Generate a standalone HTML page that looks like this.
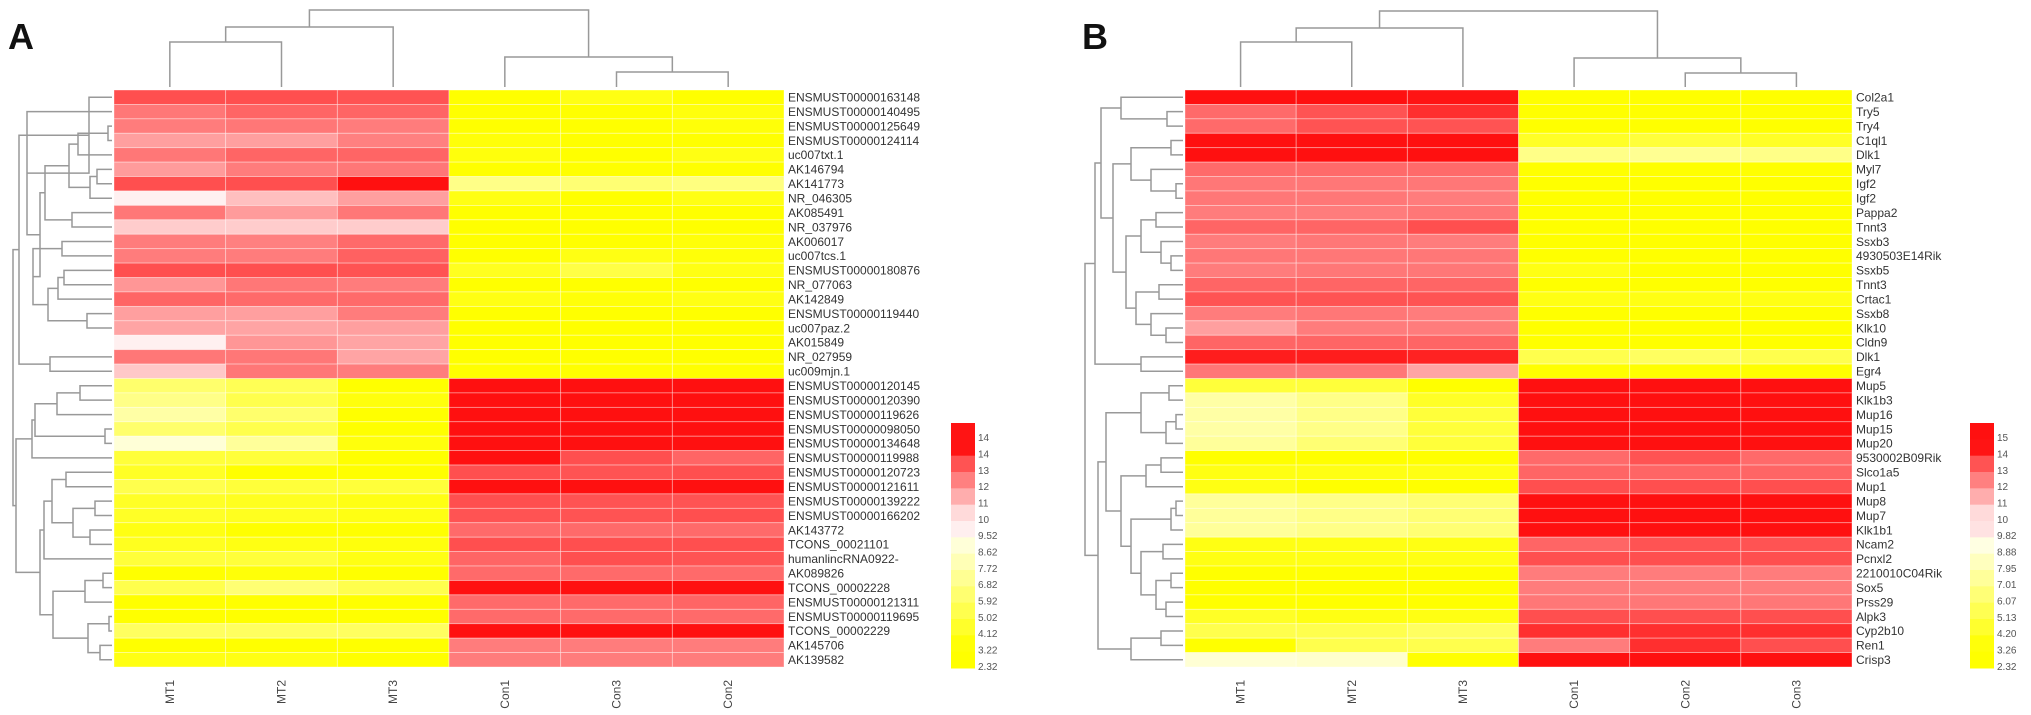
<!DOCTYPE html>
<html><head><meta charset="utf-8">
<style>
html,body{margin:0;padding:0;background:#fff;}
svg{display:block;}
text{font-family:"Liberation Sans",sans-serif;}
</style></head>
<body>
<svg id="chart" width="2031" height="715" viewBox="0 0 2031 715" xmlns="http://www.w3.org/2000/svg">
<text x="8" y="49" font-size="36" font-weight="bold" fill="#111">A</text>
<text x="1082" y="49" font-size="36" font-weight="bold" fill="#111">B</text>
</svg>
<script>
const colsA = ["MT1","MT2","MT3","Con1","Con3","Con2"];
const colsB = ["MT1","MT2","MT3","Con1","Con2","Con3"];
const rowsA = ["ENSMUST00000163148","ENSMUST00000140495","ENSMUST00000125649","ENSMUST00000124114","uc007txt.1","AK146794","AK141773","NR_046305","AK085491","NR_037976","AK006017","uc007tcs.1","ENSMUST00000180876","NR_077063","AK142849","ENSMUST00000119440","uc007paz.2","AK015849","NR_027959","uc009mjn.1","ENSMUST00000120145","ENSMUST00000120390","ENSMUST00000119626","ENSMUST00000098050","ENSMUST00000134648","ENSMUST00000119988","ENSMUST00000120723","ENSMUST00000121611","ENSMUST00000139222","ENSMUST00000166202","AK143772","TCONS_00021101","humanlincRNA0922-","AK089826","TCONS_00002228","ENSMUST00000121311","ENSMUST00000119695","TCONS_00002229","AK145706","AK139582"];
const rowsB = ["Col2a1","Try5","Try4","C1ql1","Dlk1","Myl7","Igf2","Igf2","Pappa2","Tnnt3","Ssxb3","4930503E14Rik","Ssxb5","Tnnt3","Crtac1","Ssxb8","Klk10","Cldn9","Dlk1","Egr4","Mup5","Klk1b3","Mup16","Mup15","Mup20","9530002B09Rik","Slco1a5","Mup1","Mup8","Mup7","Klk1b1","Ncam2","Pcnxl2","2210010C04Rik","Sox5","Prss29","Alpk3","Cyp2b10","Ren1","Crisp3"];
const valsA = [
[13.1,13.1,13,3,3.5,3],[12.2,12.6,12.6,3,3,3.3],[12.1,12.2,12.1,3,3,3.2],[11.3,11.3,12.0,3.2,3,3],[12.2,12.6,12.6,3.3,3,3.5],
[11.4,12.1,12.2,3,3,3],[13.1,13.1,14.5,6.5,6,6.3],[9.5,10.6,11.3,3.5,3,3.5],[12.2,11.4,12.2,3,3,3],[10.3,10.3,10.3,3,3,3],
[12.1,12,12.5,3,3,3.2],[12.1,12.1,12.7,3,3.5,3.2],[13.1,13.1,13,3.8,4.8,3.5],[11.5,12.2,12.1,3,3,3],[12.6,12.5,12.5,3.5,3.2,3.5],
[11.3,11.3,12.1,3,3,3],[11.2,11.2,11.3,3,3,3],[9.5,11.5,11.2,3,3,3],[12.2,12.2,11.2,3,3,3],[10.4,12.2,12.1,3,3,3],
[5.8,5.2,3,14.5,14.5,14.5],[6.5,5,3.3,14.5,14.5,14.5],[7.3,5.8,3,14.5,14.5,14.5],[5.8,5,3,14.5,14.5,14.5],[8.6,7,3.3,14.5,14.5,14.5],
[4.5,4.5,3,14.5,13.1,12.6],[4,3,3,13.1,13,13.1],[5,4.5,4.5,14.5,14.5,14.5],[4,3.8,3.5,13.1,13,13],[4,3.8,3.5,13,13,13.1],
[3.5,3,3,12.5,12.5,12.5],[3.8,3.5,3.3,13.1,13.1,13.1],[4.5,4.5,3.5,12.6,13.1,13],[3,3.2,3,12.5,12.5,12.5],[5,6,5,14.5,14.5,14.5],
[3,3,3,12.5,12.5,12.6],[3,3,3,12.5,12.5,12.5],[5.5,5.5,5.5,14.5,14.5,14.5],[3,3,3,12.1,12.1,12.1],[3.5,3.5,3,12.1,12.1,12.1]];
const valsB = [
[14.5,14.5,14.4,3,3,3],[12.5,13,13.8,3,3,3],[12.5,13,13,3,3,3],[14.5,14.5,14.5,4,4.5,4],[14.5,14.5,14.5,6.5,6.8,6.5],
[12.5,12.5,12.5,3,3,3],[12.2,12.2,12.2,3,3,3],[12.2,12.2,12.1,3,3,3],[12.1,12.1,12.2,3,3,3],[12.6,12.6,13.1,3,3,3],
[12.1,12.2,12.1,3,3,3],[12.2,12.2,12.2,3,3,3],[12.1,12.2,12.2,3.5,3,3],[12.6,12.6,12.6,3,3,3],[13,13,13,3.5,3.5,3.5],
[12.1,12.2,12.1,3,3,3],[11.3,12.1,12.1,3,3,3],[12.6,12.6,12.6,3,3,3],[14.2,14.2,14.1,5,5.5,5],[12.2,12.2,11.2,3,3,3],
[4.5,4.5,3,14.5,14.5,14.5],[7.3,6.5,4,14.5,14.5,14.5],[7.3,6.5,4.5,14.5,14.5,14.5],[7.3,6.5,4.5,14.5,14.5,14.5],[7,6,4.5,14.5,14.5,14.5],
[3,3,3,12.5,13,12.5],[3.5,3.5,3.5,12.6,12.6,12.6],[3.5,3,3,13.1,13.1,13.1],[7,6.5,6,14.5,14.5,14.5],[7,6.5,6,14.5,14.5,14.5],
[7,6.5,6,14.5,14.5,14.5],[3.5,3.5,3.5,12.6,13,13],[3.5,3.5,3.5,13.1,13.1,13.1],[3,3,3,12.1,12.1,12.1],[3,3,3,12.1,12.1,12.1],
[3,3,3,12.2,12.2,12.2],[4,3.5,3.5,13.1,13.1,13.1],[5,5,5.5,13.8,13.8,13.8],[3,5,5,12.1,13.8,13.1],[8.5,8.3,3,14.5,14.5,14.5]];
const legendA = ["14","14","13","12","11","10","9.52","8.62","7.72","6.82","5.92","5.02","4.12","3.22","2.32"];
const legendB = ["15","14","13","12","11","10","9.82","8.88","7.95","7.01","6.07","5.13","4.20","3.26","2.32"];
// row dendrograms: [left,right,mergeDepth] (depth in px from leaf end, larger = closer to root)
const treeA = [[[0,[1,[[[[[2,3,4],4,34],[[5,6,15],7,22],43],[8,9,40],67],[[10,11,50],[[[12,13,48],14,54],[15,16,25],64],79],72],85],23],[18,19,62],93],[[[[[20,21,32],22,55],[23,24,7],77],25,80],[[[[26,27,46],[[28,29,17],[30,31,22],39],60],32,68],[[[33,34,9],35,27],[[36,37,3],[38,39,12],24],59],72],96],99];
const treeB = [[[[0,[1,2,16],62],[[[3,4,12],[5,[6,7,7],32],52],[[[8,9,27],[10,[11,12,12],22],42],[[13,14,24],[15,[16,17,17],32],47],57],70],82],[18,19,42],88],[[[[20,21,14],[[22,23,7],24,17],42],[[[25,26,22],27,37],[[[28,29,7],30,12],[[31,32,20],[[33,34,12],[35,36,17],27],42],52],62],77],[[37,38,22],39,52],85],98];
const colTreeA = [[[0,1,45],2,60],[[4,5,15],3,30],77];
const colTreeB = [[[0,1,45],2,59],[[4,5,14],3,29],76];

const NS="http://www.w3.org/2000/svg";
const svg=document.getElementById('chart');
function mk(tag,attrs,parent){const e=document.createElementNS(NS,tag);for(const k in attrs)e.setAttribute(k,attrs[k]);(parent||svg).appendChild(e);return e;}
function color(v){
  if(v>=9.5){const t=Math.min(1,(v-9.5)/5);const g=Math.round(240-224*t);return `rgb(255,${g},${g})`;}
  const t=Math.min(1,Math.max(0,(9.5-v)/6.5));const b=Math.round(250*(1-t));return `rgb(255,255,${b})`;
}
function panel(p){
  const g=mk('g',{});
  
  
  const cw=(p.x1-p.x0)/p.cols.length, rh=(p.y1-p.y0)/p.rows.length;
  const xs=i=>p.x0+i*cw, ys=j=>p.y0+j*rh;
  p.vals.forEach((row,j)=>row.forEach((v,i)=>{
    const r=mk('rect',{x:xs(i),y:ys(j),width:cw,height:rh,fill:color(v),stroke:'rgba(255,255,255,0.45)','stroke-width':0.8},g);
    
    
  }));
  p.rows.forEach((lab,j)=>{
    const t=mk('text',{x:p.x1+4,y:ys(j)+rh/2+4.3,'font-size':12,fill:'#333'},g);
    t.textContent=lab;
    
    
  });
  p.cols.forEach((lab,i)=>{
    const cx=xs(i)+cw/2+4;
    const t=mk('text',{x:cx,y:680,'font-size':12,fill:'#444','text-anchor':'end',transform:`rotate(-90 ${cx} 680)`},g);
    t.textContent=lab;
    
    
  });
  const lg=mk('g',{},g);
  
  
  const n=p.legend.length, lh=(668-423)/n;
  p.legend.forEach((lab,k)=>{
    const v=parseFloat(lab)+(k<2?0.4:0);
    const r=mk('rect',{x:p.lx,y:423+k*lh,width:24,height:lh+0.5,fill:color(v)},lg);
    
    
    const t=mk('text',{x:p.lx+27,y:423+k*lh+lh/2+10,'font-size':10,fill:'#555'},lg);
    t.textContent=lab;
    
    
  });
  // row dendrogram
  const dg=mk('g',{stroke:'#999','stroke-width':1.5,fill:'none'},g);
  
  
  const leafX=p.x0-2;
  function rowNode(n){
    if(typeof n==='number')return {y:ys(n)+rh/2,x:leafX};
    const a=rowNode(n[0]),b=rowNode(n[1]),x=leafX-n[2];
    mk('path',{d:`M${a.x},${a.y}H${x}V${b.y}H${b.x}`},dg);
    return {y:(a.y+b.y)/2,x:x};
  }
  rowNode(p.tree);
  const cg=mk('g',{stroke:'#999','stroke-width':1.5,fill:'none'},g);
  
  
  const leafY=p.y0-3;
  function colNode(n){
    if(typeof n==='number')return {x:xs(n)+cw/2,y:leafY};
    const a=colNode(n[0]),b=colNode(n[1]),y=leafY-n[2];
    mk('path',{d:`M${a.x},${a.y}V${y}H${b.x}V${b.y}`},cg);
    return {x:(a.x+b.x)/2,y:y};
  }
  colNode(p.ctree);
}
panel({name:'panel-a',x0:114,x1:784,y0:90,y1:667,rows:rowsA,cols:colsA,vals:valsA,legend:legendA,lx:951,tree:treeA,ctree:colTreeA});
panel({name:'panel-b',x0:1185,x1:1852,y0:90,y1:667,rows:rowsB,cols:colsB,vals:valsB,legend:legendB,lx:1970,tree:treeB,ctree:colTreeB});
</script>
</body></html>
